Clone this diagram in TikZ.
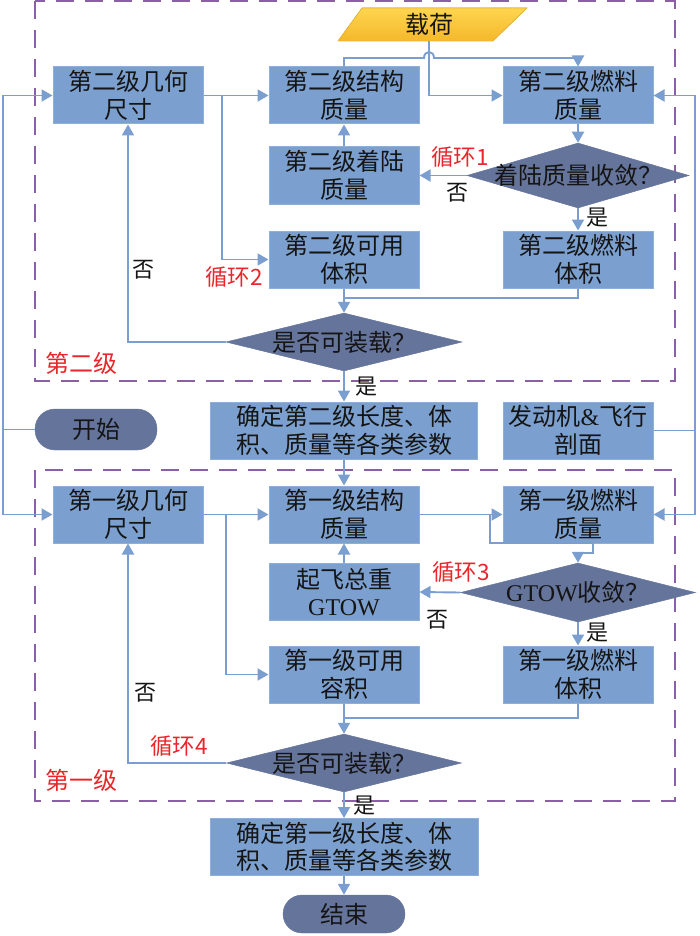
\documentclass[tikz,border=0pt]{standalone}
\usepackage{fontspec}
\setmainfont{Liberation Serif}
\newfontfamily\cjk{Noto Sans CJK SC}
\usetikzlibrary{shapes.geometric,arrows.meta}
\definecolor{boxblue}{HTML}{7BA0CF}
\definecolor{boxedge}{HTML}{8DB0DA}
\definecolor{dia}{HTML}{65749B}
\definecolor{link}{HTML}{7B9ED0}
\definecolor{stage}{HTML}{8B5FA8}
\definecolor{loopred}{HTML}{E8262B}
\definecolor{goldA}{HTML}{FFD54E}
\definecolor{goldB}{HTML}{F4B82C}
\definecolor{goldE}{HTML}{EDB435}
\definecolor{ink}{HTML}{151515}
\begin{document}
\begin{tikzpicture}[x=1pt,y=-1pt,
  box/.style={rectangle,fill=boxblue,draw=boxedge,line width=1pt,minimum width=150pt,minimum height=57pt,inner sep=0pt,align=center,text=ink,font=\fontsize{24}{27.5}\selectfont\cjk},
  dia/.style={diamond,fill=dia,draw=dia,line width=0.5pt,inner sep=0pt},
  diatext/.style={text=ink,font=\fontsize{24}{27.5}\selectfont\cjk,inner sep=0pt},
  term/.style={rectangle,rounded corners=20pt,fill=dia,draw=dia,minimum width=122pt,inner sep=0pt,text=ink,font=\fontsize{24}{27.5}\selectfont\cjk},
  line/.style={draw=link,line width=1.9pt},
  arr/.style={line,-{Triangle[length=11pt,width=12pt]}},
  stagebox/.style={draw=stage,line width=1.8pt,dash pattern=on 18pt off 11pt},
  loop/.style={text=loopred,font=\fontsize{22.5}{24}\selectfont\cjk,inner sep=0pt},
  yn/.style={text=ink,font=\fontsize{22}{24}\selectfont\cjk,inner sep=0pt}
]
\useasboundingbox (0,0) rectangle (700,936);

% stage frames
\draw[stagebox] (35,1) rectangle (675,381);
\draw[stagebox] (35,470) rectangle (675,801);

% payload
\fill[top color=goldA,bottom color=goldB,draw=goldE,line width=0.6pt] (338,41) -- (362,8) -- (527,8) -- (493,41) -- cycle;
\node[text=ink,font=\fontsize{24}{27.5}\selectfont\cjk,minimum height=33pt,inner sep=0pt] (load) at (429,24.5) {载荷};

% upper stage
\node[box] (g2) at (128,95.5) {第二级几何\\尺寸};
\node[box] (s2) at (344,95.5) {第二级结构\\质量};
\node[box] (f2) at (578,95.5) {第二级燃料\\质量};
\node[box] (l2) at (344,175.5) {第二级着陆\\质量};
\node[dia,minimum width=222pt,minimum height=65pt] (d1) at (578,175.5) {};
\node[diatext] (d1t) at (d1.center) {着陆质量收敛？};
\node[box] (u2) at (344,259.5) {第二级可用\\体积};
\node[box] (v2) at (578,259.5) {第二级燃料\\体积};
\node[dia,minimum width=236pt,minimum height=58pt] (d2) at (344,342) {};
\node[diatext] (d2t) at (d2.center) {是否可装载？};
\node[box,minimum width=267pt] (c2) at (344,430.5) {确定第二级长度、体\\积、质量等各类参数};
\node[box] (e) at (578,430.5) {发动机{\rmfamily\&}飞行\\剖面};
\node[term,minimum height=41pt] (start) at (96,429.5) {开始};

% lower stage
\node[box] (g1) at (128,514.5) {第一级几何\\尺寸};
\node[box] (s1) at (344,514.5) {第一级结构\\质量};
\node[box] (f1) at (578,514.5) {第一级燃料\\质量};
\node[box] (w) at (344,592) {起飞总重\\{\rmfamily GTOW}};
\node[dia,minimum width=235pt,minimum height=59pt] (d3) at (578,592.5) {};
\node[diatext] (d3t) at (d3.center) {{\rmfamily GTOW}收敛？};
\node[box] (u1) at (344,674.5) {第一级可用\\容积};
\node[box] (v1) at (578,674.5) {第一级燃料\\体积};
\node[dia,minimum width=235pt,minimum height=58pt] (d4) at (344,763) {};
\node[diatext] (d4t) at (d4.center) {是否可装载？};
\node[box,minimum width=268pt] (c1) at (344,847) {确定第一级长度、体\\积、质量等各类参数};
\node[term,minimum height=38pt,rounded corners=19pt] (end) at (344,914) {结束};

% junction coordinates
\coordinate (L) at (3,429.5);
\coordinate (R) at (695,430.5);
\coordinate (b2) at (222,95.5);
\coordinate (b1) at (226,514.5);
\coordinate (b3) at (490,514.5);
\coordinate (j2) at (344,298);
\coordinate (j1) at (344,718);
\coordinate (hopL) at (424,58);
\coordinate (hopR) at (434,58);

% left feed
\draw[line] (start.west) -- (L);
\draw[arr] (L) |- (g2.west);
\draw[arr] (L) |- (g1.west);
% right feed (engine & flight profile)
\draw[line] (e.east) -- (R);
\draw[arr] (R) |- (f2.east);
\draw[arr] (R) |- (f1.east);

% upper stage connectors
\draw[arr] (g2.east) -- (s2.west);
\draw[arr] (b2) |- (u2.west);
\draw[arr] (load.south) |- (f2.west);
\draw[arr] (s2.north) |- (hopL) .. controls (424,50) and (434,50) .. (hopR) -| (f2.north);
\draw[arr] (f2.south) -- (d1.north);
\draw[arr] (d1.west) -- (l2.east);
\draw[arr] (l2.north) -- (s2.south);
\draw[arr] (d1.south) -- (v2.north);
\draw[line] (v2.south) |- (j2);
\draw[arr] (u2.south) -- (d2.north);
\draw[arr] (d2.west) -| (g2.south);
\draw[arr] (d2.south) -- (c2.north);
\draw[arr] (c2.south) -- (s1.north);

% lower stage connectors
\draw[arr] (g1.east) -- (s1.west);
\draw[arr] (b1) |- (u1.west);
\draw[arr] (s1.east) -- (f1.west);
\draw[arr] (b3) -- ++(0,28.5) -- ++(103,0) -- ++(0,10) -- ++(-15,0) -- (d3.north);
\draw[arr] (d3.west) -- (w.east);
\draw[arr] (w.north) -- (s1.south);
\draw[arr] (d3.south) -- (v1.north);
\draw[line] (v1.south) |- (j1);
\draw[arr] (u1.south) -- (d4.north);
\draw[arr] (d4.west) -| (g1.south);
\draw[arr] (d4.south) -- (c1.north);
\draw[arr] (c1.south) -- (end.north);

% labels
\node[loop] (lp1) at (460,157) {循环1};
\node[loop] (lp2) at (234,277) {循环2};
\node[loop] (lp3) at (461,572) {循环3};
\node[loop] (lp4) at (179,746) {循环4};
\node[loop,font=\fontsize{24}{24}\selectfont\cjk] (st2) at (81,363) {第二级};
\node[loop,font=\fontsize{24}{24}\selectfont\cjk] (st1) at (81,780) {第一级};
\node[yn] (n1) at (457,193) {否};
\node[yn] (y1) at (597,218) {是};
\node[yn] (n2) at (143,270) {否};
\node[yn] (y2) at (366,387) {是};
\node[yn] (n3) at (437,620) {否};
\node[yn] (y3) at (597,633) {是};
\node[yn] (n4) at (145,693) {否};
\node[yn] (y4) at (364,806) {是};
\end{tikzpicture}
\end{document}
